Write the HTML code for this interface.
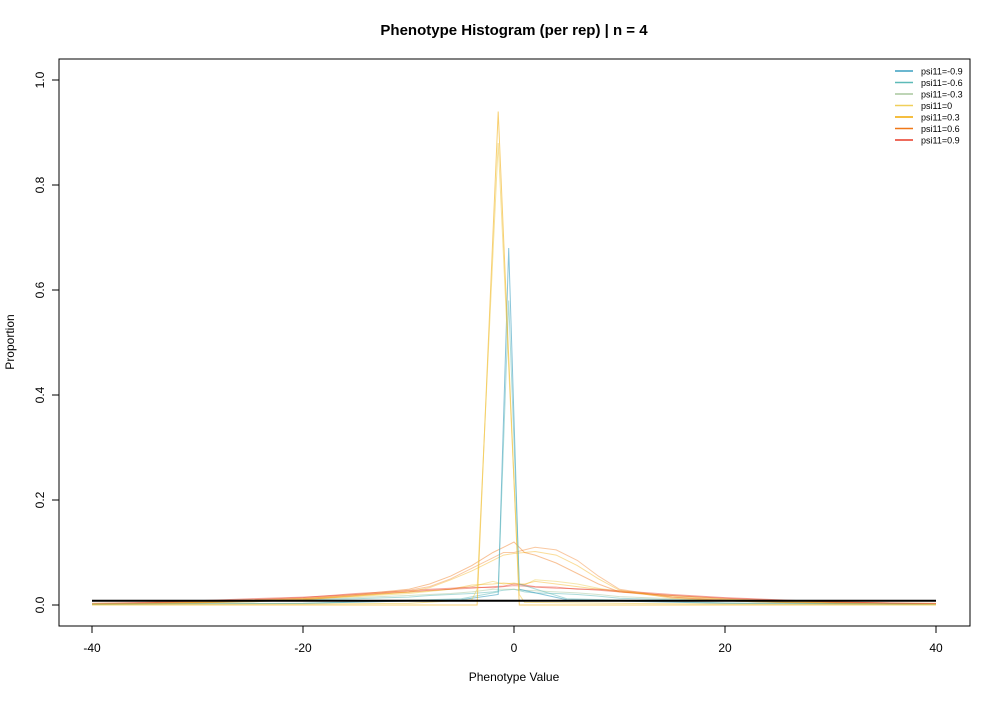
<!DOCTYPE html>
<html><head><meta charset="utf-8"><style>
body{margin:0;background:#fff;font-family:"Liberation Sans",sans-serif}
svg text{font-family:"Liberation Sans",sans-serif}
</style></head><body>
<svg id="chart" width="1000" height="700">
<rect width="1000" height="700" fill="#fff"/>
<text x="514" y="35" text-anchor="middle" font-size="15" font-weight="bold">Phenotype Histogram (per rep) | n = 4</text>
<rect x="59" y="59" width="911" height="567" fill="none" stroke="#000" stroke-width="1"/>
<g id="xaxis"></g>
<g id="yaxis"></g>
<text x="514" y="681" text-anchor="middle" font-size="12">Phenotype Value</text>
<text transform="translate(14,342) rotate(-90)" text-anchor="middle" font-size="12">Proportion</text>
<g id="lines"></g>
<g id="legend"></g>
</svg>
<script>
const xTicks=[-40,-20,0,20,40];
const yTicks=[0,0.2,0.4,0.6,0.8,1.0];
const yTickLabels=["0.0","0.2","0.4","0.6","0.8","1.0"];
const gridX=[-40,-35,-30,-25,-20,-15,-10,-8,-6,-4,-2,-1,0,1,2,4,6,8,10,15,20,25,30,35,40];
const orangeA=[0.002,0.003,0.005,0.008,0.012,0.02,0.03,0.04,0.055,0.075,0.1,0.11,0.12,0.1,0.095,0.08,0.06,0.04,0.025,0.015,0.01,0.006,0.004,0.002,0.001];
const orangeB=[0.002,0.003,0.004,0.007,0.01,0.018,0.028,0.035,0.05,0.07,0.09,0.1,0.1,0.105,0.11,0.105,0.085,0.055,0.03,0.015,0.008,0.005,0.003,0.002,0.001];
const orangeC=[0.001,0.002,0.004,0.006,0.01,0.017,0.025,0.033,0.048,0.065,0.085,0.095,0.098,0.1,0.102,0.095,0.075,0.05,0.028,0.013,0.008,0.005,0.003,0.002,0.001];
const redA=[0.003,0.005,0.008,0.012,0.015,0.02,0.025,0.028,0.03,0.032,0.035,0.036,0.04,0.038,0.035,0.034,0.03,0.03,0.027,0.02,0.014,0.01,0.006,0.004,0.003];
const redB=[0.002,0.004,0.007,0.01,0.014,0.022,0.027,0.03,0.032,0.034,0.033,0.035,0.037,0.036,0.034,0.032,0.031,0.028,0.025,0.018,0.013,0.009,0.006,0.004,0.002];
const goldLow=[0.003,0.004,0.006,0.01,0.013,0.018,0.024,0.027,0.03,0.038,0.04,0.042,0.04,0.04,0.045,0.04,0.035,0.03,0.025,0.018,0.012,0.008,0.005,0.004,0.003];
const yellowLow=[0.002,0.003,0.005,0.008,0.012,0.016,0.022,0.026,0.03,0.035,0.045,0.04,0.042,0.038,0.048,0.045,0.04,0.032,0.026,0.017,0.011,0.007,0.005,0.003,0.002];
const tealLow=[0.001,0.002,0.004,0.006,0.01,0.012,0.015,0.018,0.02,0.022,0.025,0.028,0.03,0.025,0.023,0.022,0.02,0.017,0.013,0.01,0.008,0.005,0.003,0.002,0.001];
const greenLow=[0.001,0.003,0.005,0.007,0.01,0.014,0.018,0.02,0.022,0.025,0.03,0.03,0.03,0.028,0.027,0.025,0.023,0.02,0.016,0.012,0.009,0.006,0.004,0.003,0.002];
const spikeX=[-40,-20,-10,-4,-3.5,-1.5,0.5,1,10,20,40];
const yellowSpikeA=[0.0,0.0,0.0,0.0,0.0,0.94,0.0,0.0,0.0,0.0,0.0];
const yellowSpikeB=[0.002,0.002,0.003,0.01,0.03,0.88,0.02,0.005,0.003,0.002,0.001];
const blueX=[-40,-20,-5,-1.5,-0.5,0.5,5,20,40];
const blueSpikeA=[0.002,0.003,0.01,0.02,0.68,0.03,0.01,0.003,0.001];
const blueSpikeB=[0.001,0.003,0.012,0.025,0.58,0.04,0.012,0.004,0.001];
const blackX=[-40,40];
const blackY=[0.008,0.008];
const legendLabels=["psi11=-0.9","psi11=-0.6","psi11=-0.3","psi11=0","psi11=0.3","psi11=0.6","psi11=0.9"];
const legendColors=["#3a9fc0","#5dbab8","#a9c79d","#f0cf5a","#f2a900","#f07818","#e83a26"];

const NS="http://www.w3.org/2000/svg";
const xs=v=>92+(v+40)*(844/80);
const ys=v=>605-v*525;
const xg=document.getElementById('xaxis'), yg=document.getElementById('yaxis');
function mk(t,a,p){const e=document.createElementNS(NS,t);for(const k in a)e.setAttribute(k,a[k]);p.appendChild(e);return e;}
mk('line',{x1:xs(-40),x2:xs(40),y1:626,y2:626,stroke:'#000'},xg);
xTicks.forEach(v=>{
 const l=mk('line',{x1:xs(v),x2:xs(v),y1:626,y2:633,stroke:'#000'},xg);
 
 
 const t=mk('text',{x:xs(v),y:652,'text-anchor':'middle','font-size':12},xg);t.textContent=v;
 
 
});
mk('line',{x1:59,x2:59,y1:ys(0),y2:ys(1),stroke:'#000'},yg);
yTicks.forEach((v,i)=>{
 const l=mk('line',{x1:52,x2:59,y1:ys(v),y2:ys(v),stroke:'#000'},yg);
 
 
 const t=mk('text',{transform:`translate(44,${ys(v)}) rotate(-90)`,'text-anchor':'middle','font-size':12},yg);t.textContent=yTickLabels[i];
 
 
});
const lg=document.getElementById('lines');
function line(X,Y,col,op,w,name){
 const d=X.map((x,i)=>(i?'L':'M')+xs(x).toFixed(1)+','+ys(Y[i]).toFixed(1)).join('');
 const p=mk('path',{d:d,fill:'none',stroke:col,'stroke-opacity':op,'stroke-width':w},lg);
 
 
}
line(gridX,tealLow,legendColors[1],0.5,1,'series-teal-low');
line(gridX,greenLow,legendColors[2],0.5,1,'series-green-low');
line(gridX,yellowLow,legendColors[3],0.5,1,'series-yellow-low');
line(gridX,goldLow,legendColors[4],0.4,1,'series-gold-low');
line(gridX,redA,legendColors[6],0.45,1,'series-red-a');
line(gridX,redB,legendColors[6],0.45,1,'series-red-b');
line(gridX,orangeA,legendColors[5],0.45,1,'series-orange-a');
line(gridX,orangeB,legendColors[5],0.4,1,'series-orange-b');
line(gridX,orangeC,legendColors[4],0.4,1,'series-orange-c');
line(blueX,blueSpikeA,legendColors[0],0.6,1,'series-blue-spike-a');
line(blueX,blueSpikeB,legendColors[1],0.5,1,'series-blue-spike-b');
line(spikeX,yellowSpikeA,legendColors[4],0.55,1,'series-yellow-spike-a');
line(spikeX,yellowSpikeB,legendColors[3],0.6,1,'series-yellow-spike-b');
line(blackX,blackY,'#000',1,2,'mean-line');
const lgd=document.getElementById('legend');
legendLabels.forEach((s,i)=>{
 const y=71+i*11.5;
 const l=mk('line',{x1:895,x2:913,y1:y,y2:y,stroke:legendColors[i],'stroke-width':1.5},lgd);
 
 
 const t=mk('text',{x:921,y:y+3.5,'font-size':9},lgd);t.textContent=s;
 
 
});
</script>
</body></html>
